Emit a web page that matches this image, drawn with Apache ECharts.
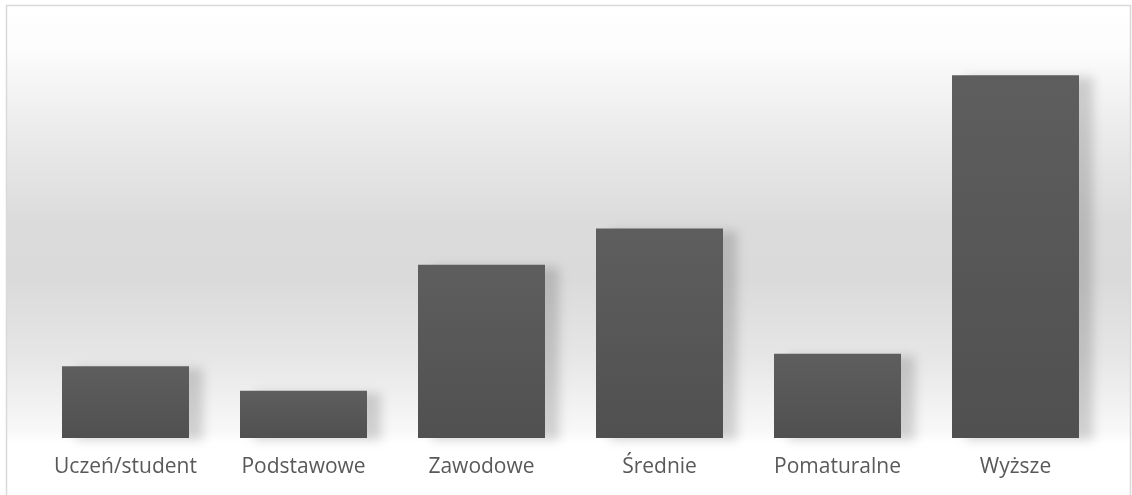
<!DOCTYPE html>
<html>
<head>
<meta charset="utf-8">
<script src="https://cdn.jsdelivr.net/npm/echarts@6/dist/echarts.min.js"></script>
<style>
html, body { margin: 0; padding: 0; background: #fff; }
#main { width: 1132px; height: 495px; }
</style>
</head>
<body>
<div id="main"></div>
<script>
var categories = ['Uczeń/student', 'Podstawowe', 'Zawodowe', 'Średnie', 'Pomaturalne', 'Wyższe'];
var values = [7.9, 5.2, 19.1, 23.1, 9.3, 40];

var dom = document.getElementById('main');
var myChart = echarts.init(dom);

var option = {
    animation: false,
    backgroundColor: '#fff',
    graphic: [
        {
            // tło obszaru wykresu (gradient jak w Excelu)
            type: 'rect',
            z: -10,
            silent: true,
            shape: { x: 7, y: 6, width: 1123, height: 438 },
            style: {
                fill: new echarts.graphic.LinearGradient(0, 0, 0, 1, [
                    { offset: 0, color: '#ffffff' },
                    { offset: 0.1, color: '#fcfcfc' },
                    { offset: 0.3, color: '#eaeaea' },
                    { offset: 0.5, color: '#dbdbdb' },
                    { offset: 0.62, color: '#dadada' },
                    { offset: 0.8, color: '#e6e6e6' },
                    { offset: 0.97, color: '#f8f8f8' },
                    { offset: 1, color: '#ffffff' }
                ])
            }
        },
        {
            type: 'rect',
            z: 100,
            silent: true,
            shape: { x: 6.5, y: 5.5, width: 1124, height: 495 },
            style: { fill: 'none', stroke: '#d9d9d9', lineWidth: 1.5 }
        }
    ],
    grid: {
        left: 36.5,
        right: 27.5,
        top: 30,
        bottom: 57,
        containLabel: false
    },
    xAxis: {
        type: 'category',
        data: categories,
        axisLine: { show: false },
        axisTick: { show: false },
        axisLabel: {
            interval: 0,
            hideOverlap: false,
            color: '#595959',
            fontSize: 21,
            fontFamily: 'Open Sans',
            margin: 19
        }
    },
    yAxis: {
        type: 'value',
        min: 0,
        max: 45,
        show: false,
        splitLine: { show: false }
    },
    series: [
        {
            type: 'bar',
            data: values,
            barWidth: 127,
            itemStyle: {
                color: new echarts.graphic.LinearGradient(0, 0, 0, 1, [
                    { offset: 0, color: '#5e5e5e' },
                    { offset: 1, color: '#505050' }
                ]),
                shadowColor: 'rgba(0,0,0,0.16)',
                shadowBlur: 10,
                shadowOffsetX: 14,
                shadowOffsetY: 2
            }
        }
    ]
};

myChart.setOption(option);
</script>
</body>
</html>
